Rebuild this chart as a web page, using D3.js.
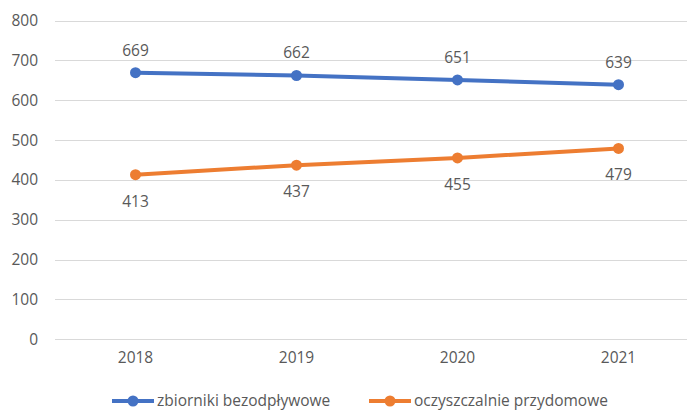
<!DOCTYPE html>
<html><head><meta charset="utf-8">
<script src="https://cdn.jsdelivr.net/npm/d3@7"></script>
<style>
html,body{margin:0;padding:0;background:#fff;}
svg{display:block;font-family:"Open Sans",sans-serif;}
</style></head>
<body><svg id="c" width="687" height="410"></svg>
<script>
const categories = ["2018","2019","2020","2021"];
const seriesNames = ["zbiorniki bezodpływowe","oczyszczalnie przydomowe"];
const zbiorniki = [669,662,651,639];
const oczyszczalnie = [413,437,455,479];
const yTicks = [0,100,200,300,400,500,600,700,800];
const colors = ["#4472C4","#ED7D31"];

const svg = d3.select("#c");
const fs = 15.5, txt = "#595959";
const x = d3.scaleBand().domain(categories).range([55,699]);
const y = d3.scaleLinear().domain([0,800]).range([339.3,20.5]);

// gridlines
svg.append("g").selectAll("line").data(yTicks).join("line")
  .attr("x1",55).attr("x2",699)
  .attr("y1",d=>Math.round(y(d))+0.5).attr("y2",d=>Math.round(y(d))+0.5)
  .attr("stroke","#d9d9d9").attr("stroke-width",1);

// y axis labels
const ya = svg.append("g").attr("transform","translate(45,0)")
  .call(d3.axisLeft(y).tickValues(yTicks).tickSize(0).tickPadding(7));
ya.select(".domain").remove();
ya.selectAll("text").attr("font-size",fs).attr("fill",txt).attr("font-family","Open Sans, sans-serif");

// x axis labels
const xa = svg.append("g").attr("transform","translate(0,339.3)")
  .call(d3.axisBottom(x).tickSize(0).tickPadding(13));
xa.select(".domain").remove();
xa.selectAll("text").attr("font-size",fs).attr("fill",txt).attr("font-family","Open Sans, sans-serif");

const series = [zbiorniki, oczyszczalnie];
const cx = c => x(c) + x.bandwidth()/2;
const line = d3.line().x((d,i)=>cx(categories[i])).y(d=>y(d));

series.forEach((vals,si)=>{
  const g = svg.append("g");
  g.append("path").datum(vals).attr("d",line).attr("fill","none")
    .attr("stroke",colors[si]).attr("stroke-width",4).attr("stroke-linecap","round");
  g.selectAll("circle").data(vals).join("circle")
    .attr("cx",(d,i)=>cx(categories[i])).attr("cy",d=>y(d)).attr("r",5.5).attr("fill",colors[si]);
  g.selectAll("text").data(vals).join("text")
    .attr("x",(d,i)=>cx(categories[i]))
    .attr("y",d=> si===0 ? y(d)-17 : y(d)+32)
    .attr("text-anchor","middle").attr("font-size",fs).attr("fill",txt)
    .text(d=>d);
});

// legend
const legX = [112,369];
seriesNames.forEach((n,i)=>{
  const g = svg.append("g").attr("transform",`translate(${legX[i]},401)`);
  g.append("line").attr("x1",0).attr("x2",42).attr("y1",0).attr("y2",0)
    .attr("stroke",colors[i]).attr("stroke-width",4);
  g.append("circle").attr("cx",21).attr("cy",0).attr("r",5.5).attr("fill",colors[i]);
  g.append("text").attr("x",45).attr("y",4.5).attr("font-size",fs).attr("fill",txt).text(n);
});
</script></body></html>
